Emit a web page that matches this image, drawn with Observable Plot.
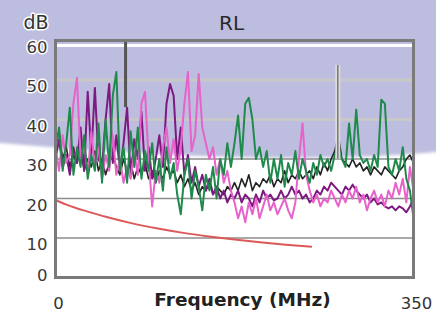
<!DOCTYPE html>
<html><head><meta charset="utf-8">
<script src="https://cdn.jsdelivr.net/npm/d3@7"></script>
<script src="https://cdn.jsdelivr.net/npm/@observablehq/plot@0.6"></script>
<style>
html,body{margin:0;padding:0;background:#fff;}
#wrap{position:relative;width:436px;height:314px;overflow:hidden;font-family:"DejaVu Sans",Arial,sans-serif;}
#bg{position:absolute;left:0;top:0;}
#chart{position:absolute;left:0;top:0;}
</style></head><body>
<div id="wrap">
<svg id="bg" width="436" height="314"><defs><filter id="b"><feGaussianBlur stdDeviation="1.5"/></filter></defs>
<rect width="436" height="314" fill="#fff"/>
<path d="M-10,-10 H446 V151 Q282,168 -10,142 Z" fill="#bdbddf" filter="url(#b)"/>
</svg>
<div id="chart"></div>
</div>
<script>
// sampling grid (MHz)
const freqMHz = d3.range(0, 350.1, 3.5);

const greenDb = [32,38,27,34,43,26,33,28,36,25,
 31,27,39,24,40,28,46,52,27,33,
 24,37,28,38,25,32,27,34,24,30,
 22,33,25,29,21,16,26,30,20,27,
 23,17,26,22,28,20,30,26,34,28,
 34,41,30,44,45.5,40,30,33,28,32,
 24,30,25,31,23,29,26,32,25,30,
 27,24,29,26,31,28,30,27,31,33,
 30,28,39,30,42.5,31,29,30,27,31,
 28,45,44,28,26,30,27,33,25,22,
 15];

const purpleDb = [30,35,28,31,26,33,29,38,27,47,
 31,48,30,28,40,49,29,36,27,34,
 43,26,35,30,42,27,33,25,30,36,
 28,44,49,46,30,38,26,31,24,28,
 23,26,22,25,21,23,20,22,19,21,
 20,22,19,21,20,18,21,19,22,20,
 21,19.5,20,22,20,21,23,21,22,20,
 21,19,20,22,21,23,22,24,23,22,
 21,23,22,23.5,22,21,20,21,19,20,
 18.5,19,18,17.5,18,17,18,17.5,16.5,18,
 20];

const pinkDb = [33,27,36,29,31,44,50.5,30,34,26,
 37,28,33,25,31,27,36,26,30,24,
 28,25,32,26,44,47,30,18,27,24,
 33,38,29,35,27,33,44,52,32,36,
 51.5,38,34,30,33,26,30,24,27,22,
 19,15,18,14,19,16,20,15,18,21,
 17,19,16,18,20,17,15,19,30,39,
 26,22,19,21,18,20,19,22,20,18,
 21,19,22,20,23,19,21,17,20,22,
 19,21,18,22,20,24,21,25,19,28,
 22];

const blackDb = [34,37,30,33,28,31,29,33,27,30,
 28,32,27,30,26,29,31,28,26,30,
 27,29,25,28,26,29,25,27,24,27,
 25,28,26,27,24,26,23,25,22,24,
 21,23,22,24,21,23,22,21,23,22,
 24,22,25,23,26,22,24,23,25,24,
 26,23,25,24,27,24,26,25,27,25,
 26,27,25,28,26,29,27,30,32,36,
 30,29,28,30,28,29,27,28,26,28,
 27,26,28,27,26,25,27,28,30,31,
 29];

// limit line
const limitFreq = [1,10,20,30,50,75,100,125,150,175,200,225,250];
const limitDb = [19.5,18.5,17.6,16.8,15.3,13.7,12.4,11.3,10.4,9.6,8.9,8.3,7.8];

// markers
const markerFreq = [68.5, 276];
const markerTop = [60, 53.7];
const markerBottom = [43, 30];

const yTicks = [10,20,30,40,50,60];
const yZeroTick = [0];
const xTicks = [0,350];
const lightGrid = [40,50];
const darkGrid = [10,20,30];

const rows = (arr) => freqMHz.map((f, i) => ({f, v: arr[i]}));
const limitRows = limitFreq.map((f, i) => ({f, v: limitDb[i]}));
const markers = markerFreq.map((f, i) => ({f, top: markerTop[i], bottom: markerBottom[i]}));

const font = "DejaVu Sans, Arial, sans-serif";
const chart = Plot.plot({
  width: 436, height: 314,
  marginLeft: 55, marginRight: 23, marginTop: 40, marginBottom: 37,
  style: {background: "transparent", fontFamily: font, overflow: "visible"},
  x: {domain: [0, 350]},
  y: {domain: [0, 60]},
  marks: [
    Plot.ruleY(lightGrid, {stroke: "#c8c8c8", strokeWidth: 3}),
    Plot.ruleY(darkGrid, {stroke: "#8c8c8c", strokeWidth: 1.5}),
    Plot.ruleY([60], {stroke: "#fff", strokeWidth: 3, dy: 5}),
    Plot.line(rows(blackDb), {x: "f", y: "v", stroke: "#222", strokeWidth: 1.6}),
    Plot.line(rows(purpleDb), {x: "f", y: "v", stroke: "#7d1a80", strokeWidth: 2}),
    Plot.line(rows(pinkDb), {x: "f", y: "v", stroke: "#e862cc", strokeWidth: 2}),
    Plot.line(rows(greenDb), {x: "f", y: "v", stroke: "#1f8a4c", strokeWidth: 2}),
    Plot.line(limitRows, {x: "f", y: "v", stroke: "#dd5858", strokeWidth: 2, curve: "monotone-x"}),
    Plot.ruleX(markers.slice(0,1), {x: "f", y1: "top", y2: "bottom", stroke: "#555", strokeWidth: 3}),
    Plot.ruleX(markers.slice(1), {x: "f", y1: "top", y2: "bottom", stroke: "#dcdcdc", strokeWidth: 5}),
    Plot.ruleX(markers.slice(1), {x: "f", y1: "top", y2: "bottom", stroke: "#777", strokeWidth: 1.5}),
    Plot.frame({stroke: "#7a7a7a", strokeWidth: 3}),
    Plot.axisY({ticks: yTicks, tickSize: 0, tickPadding: 8, fontSize: 16.5, fill: "#383838", textStroke: "white", textStrokeWidth: 3, dy: 7, label: null}),
    Plot.axisY({ticks: yZeroTick, tickSize: 0, tickPadding: 8, fontSize: 16.5, fill: "#383838", textStroke: "white", textStrokeWidth: 3, dy: -2, label: null}),
    Plot.axisX({ticks: xTicks, tickSize: 0, tickPadding: 20, fontSize: 16.5, fill: "#333", dx: 3, label: null}),
    Plot.text(["RL"], {text: d => d, frameAnchor: "top", lineAnchor: "middle", dx: -3, dy: -17, fontSize: 20, fill: "#2a2a2a"}),
    Plot.text(["dB"], {text: d => d, frameAnchor: "top-left", lineAnchor: "middle", dx: -7, dy: -18, textAnchor: "end", fontSize: 19, fill: "#333", stroke: "white", strokeWidth: 3}),
    Plot.text(["Frequency (MHz)"], {text: d => d, frameAnchor: "bottom", lineAnchor: "middle", dx: 8, dy: 23, fontSize: 18.5, fontWeight: "bold", fill: "#222"})
  ]
});
document.getElementById("chart").appendChild(chart);
</script>
</body></html>
